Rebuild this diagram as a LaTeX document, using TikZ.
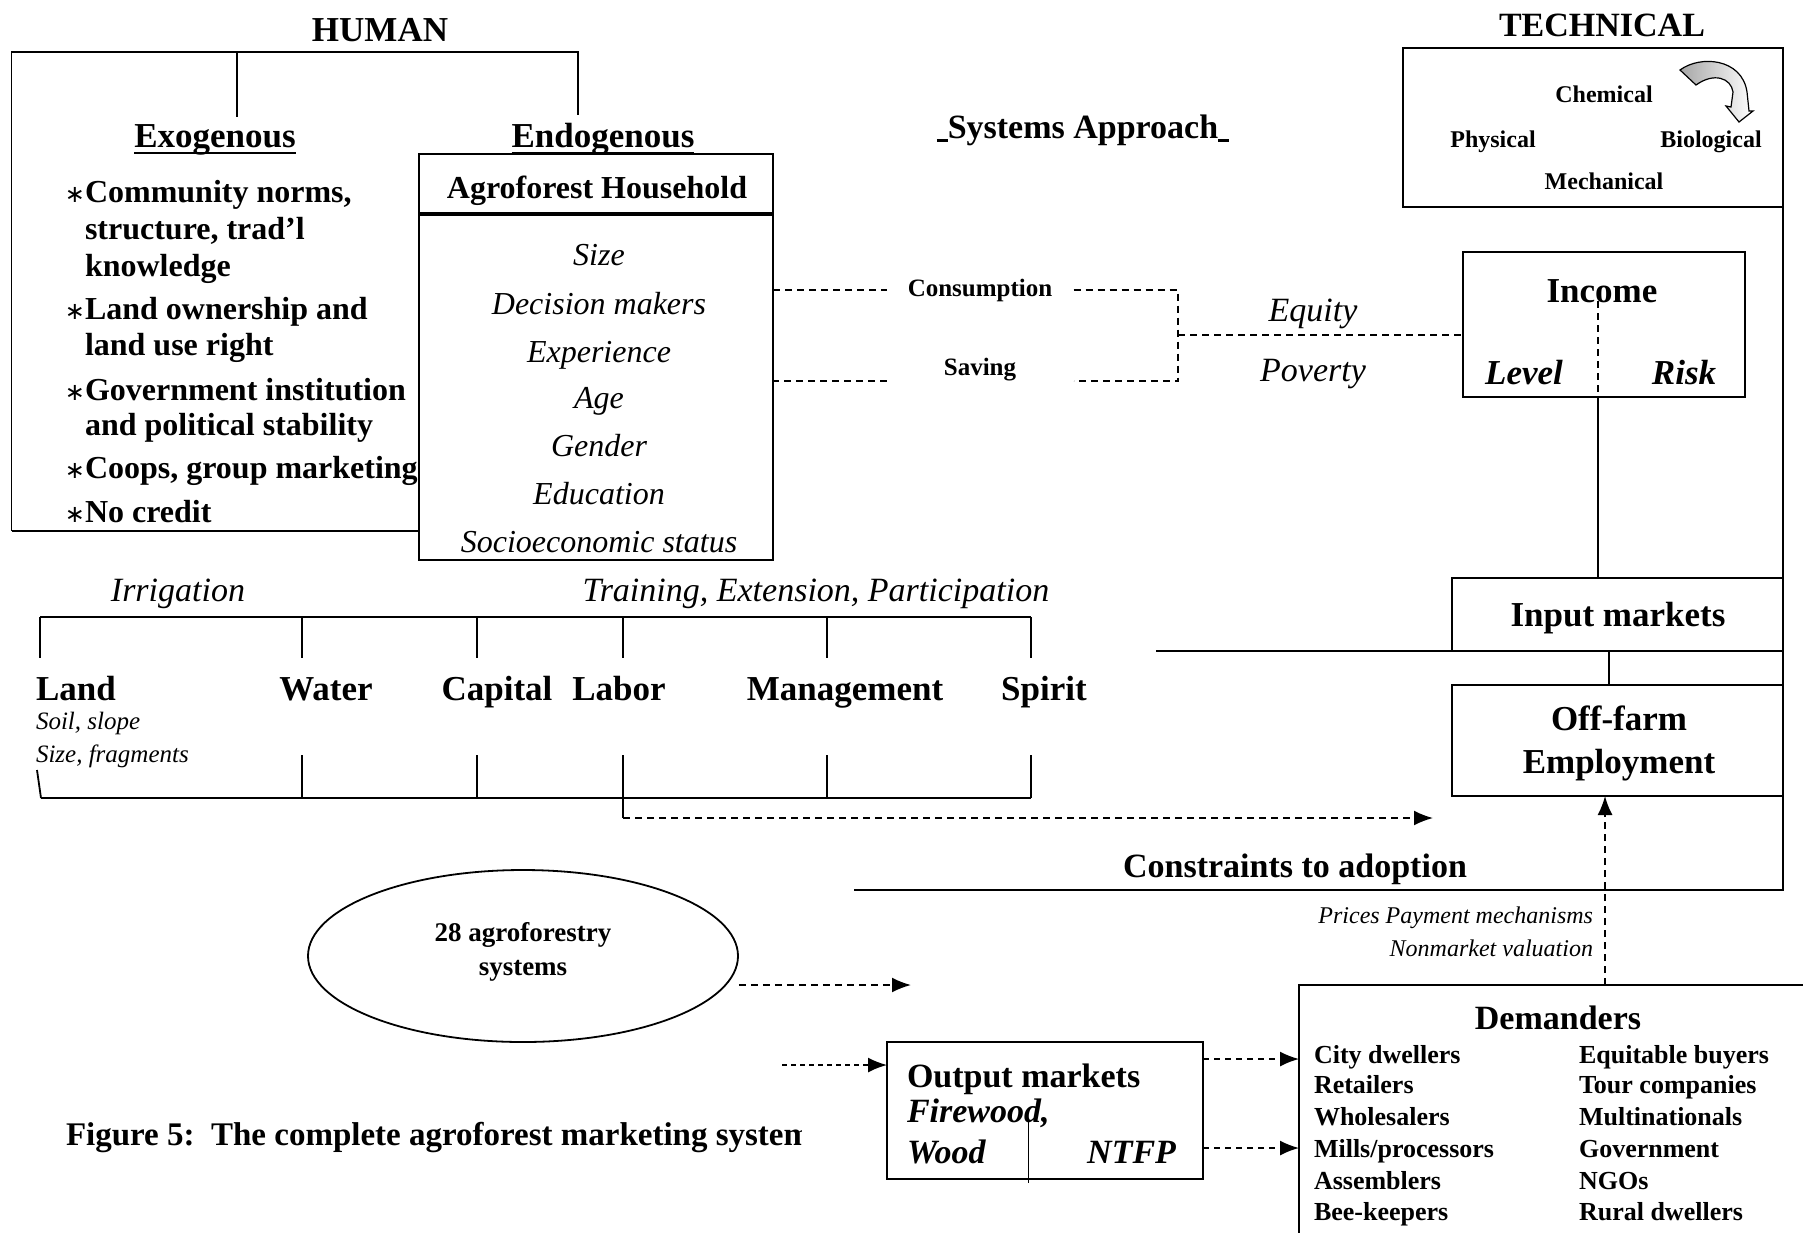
\documentclass[tikz,border=0pt]{standalone}
\usepackage{fontspec}
\setmainfont{Liberation Serif}
\newfontfamily\symfont{DejaVu Sans}
\usetikzlibrary{arrows.meta,shapes.geometric,calc}

\newcommand\fsz[1]{\fontsize{#1}{#1}\selectfont}
% heading text with a heavy underline
\newcommand\heavyul[1]{\setbox0\hbox{#1}\rlap{\rule[-7pt]{\wd0}{2.2pt}}\box0}
\newcommand\bul{{\symfont\fsz{24}∗}}

\begin{document}
\begin{tikzpicture}[x=1pt,y=-1pt,line width=1.8pt,
  box/.style={draw,line width=2.2pt,inner sep=0pt,outer sep=0pt},
  lbl/.style={inner sep=0pt,outer sep=0pt,anchor=base},
  hd/.style={lbl,font=\bfseries\fsz{35}},
  bl/.style={lbl,anchor=base west,font=\bfseries\fsz{32}},
  bstar/.style={lbl,anchor=base east},
  hhitem/.style={lbl,font=\itshape\fsz{32}},
  tk/.style={lbl,font=\bfseries\fsz{24}},
  res/.style={lbl,font=\bfseries\fsz{35}},
  dem/.style={lbl,anchor=base west,font=\bfseries\fsz{26}},
  dashline/.style={dash pattern=on 7pt off 5pt,line width=1.8pt},
  tipped/.style={-{Latex[length=19pt,width=15pt]}}]

\fill[white] (0,0) rectangle (1803,1232);
\useasboundingbox (0,0) rectangle (1803,1232);

% ---------- HUMAN side ----------
\node[hd] (human) at (380,41) {HUMAN};
\draw (11.5,531) -- (11.5,52) -- (578,52) -- (578,115);
\draw (237,52) -- (237,117);

\node[hd] (exo) at (215,147) {\heavyul{Exogenous}};
\node[hd] (endo) at (603,147) {\heavyul{Endogenous}};

\node[bstar] (s1) at (85,202) {\bul};
\node[bl] (b1) at (85,202) {Community norms,};
\node[bl] (b1b) at (85,239) {structure, trad’l};
\node[bl] (b1c) at (85,276) {knowledge};
\node[bstar] (s2) at (85,319) {\bul};
\node[bl] (b2) at (85,319) {Land ownership and};
\node[bl] (b2b) at (85,355) {land use right};
\node[bstar] (s3) at (85,400) {\bul};
\node[bl] (b3) at (85,400) {Government institution};
\node[bl] (b3b) at (85,435) {and political stability};
\node[bstar] (s4) at (85,478) {\bul};
\node[bl] (b4) at (85,478) {Coops, group marketing};
\node[bstar] (s5) at (85,522) {\bul};
\node[bl] (b5) at (85,522) {No credit};

% household box
\node[box,minimum width=354pt,minimum height=406pt] (hh) at (596,357) {};
\draw[line width=3.5pt] (hh.west |- 0,214) -- (hh.east |- 0,214);
\node[lbl,font=\bfseries\fsz{32}] (hhtitle) at (597,198) {Agroforest Household};
\node[hhitem] (h1) at (599,265) {Size};
\node[hhitem] (h2) at (599,314) {Decision makers};
\node[hhitem] (h3) at (599,362) {Experience};
\node[hhitem] (h4) at (599,408) {Age};
\node[hhitem] (h5) at (599,456) {Gender};
\node[hhitem] (h6) at (599,504) {Education};
\node[hhitem] (h7) at (599,552) {Socioeconomic status};
\draw (11.5,531) -- (hh.west |- 0,531);

% ---------- systems approach ----------
\node[lbl,font=\bfseries\fsz{34}] (sys) at (1083,138)
  {\rule[-4pt]{11pt}{2.6pt}Systems Approach\rule[-4pt]{11pt}{2.6pt}};

% consumption / saving flows
\node[lbl,font=\bfseries\fsz{25},minimum width=187pt] (cons) at (980,296) {Consumption};
\node[lbl,font=\bfseries\fsz{25},minimum width=187pt] (sav) at (980,375) {Saving};
\coordinate (jc) at (1178,290);
\coordinate (js) at (1178,381);
\coordinate (jm) at (1178,335);
\draw[dashline] (hh.east |- jc) -- (cons.west |- jc);
\draw[dashline] (cons.east |- jc) -- (jc) -- (js) -- (sav.east |- js);
\draw[dashline] (sav.west |- js) -- (hh.east |- js);
\node[lbl,font=\itshape\fsz{34}] (equity) at (1313,321) {Equity};
\node[lbl,font=\itshape\fsz{34}] (poverty) at (1313,381) {Poverty};

% ---------- TECHNICAL side ----------
\node[lbl,font=\bfseries\fsz{34}] (technical) at (1602,36) {TECHNICAL};
\node[box,minimum width=380pt,minimum height=159pt] (tech) at (1593,127.5) {};
\node[tk] (chem) at (1604,102) {Chemical};
\node[tk] (phys) at (1493,147) {Physical};
\node[tk] (bio) at (1711,147) {Biological};
\node[tk] (mech) at (1604,189) {Mechanical};
\draw[line width=1.2pt,left color=gray!70,right color=white]
  (1680,70) .. controls (1700,55) and (1742,58) .. (1747,92)
  -- (1749,111) -- (1753,111) -- (1739,122) -- (1726,106) -- (1731,107)
  -- (1733,92) .. controls (1731,78) and (1714,72) .. (1696,85) -- cycle;

% income
\node[box,minimum width=282pt,minimum height=145pt] (inc) at (1604,324.5) {};
\draw[dashline] (jm) -- (inc.west |- jm);
\node[res] (income) at (1602,302) {Income};
\node[lbl,font=\bfseries\itshape\fsz{35}] (level) at (1524,384) {Level};
\node[lbl,font=\bfseries\itshape\fsz{35}] (risk) at (1684,384) {Risk};
\coordinate (idv) at (1598,301);

% input markets and off-farm employment
\node[box,minimum width=331pt,minimum height=73pt] (inp) at (1617.5,614.5) {};
\node[res] (inptxt) at (1618,626) {Input markets};
\node[box,minimum width=331pt,minimum height=111pt] (off) at (1617.5,740.5) {};
\node[res] (off1) at (1619,730) {Off-farm};
\node[res] (off2) at (1619,773) {Employment};

\draw[dash pattern=on 7pt off 5pt,line width=1.3pt] (idv) -- (idv |- inc.south);
\draw (idv |- inc.south) -- (idv |- inp.north);
\draw ([xshift=-8.5pt]inp.south) -- ([xshift=-8.5pt]off.north);
\coordinate (ibl) at (1156,651);
\draw (ibl) -- (inp.south east);

% constraints frame
\coordinate (cbl) at (854,890);
\draw (tech.south east) -- (tech.east |- cbl) -- (cbl);
\node[lbl,font=\bfseries\fsz{34}] (constr) at (1295,877) {Constraints to adoption};
\node[lbl,anchor=base east,font=\itshape\fsz{24}] (prices) at (1593,923) {Prices Payment mechanisms};
\node[lbl,anchor=base east,font=\itshape\fsz{24}] (nonmkt) at (1593,956) {Nonmarket valuation};

% ---------- resources row ----------
\node[lbl,font=\itshape\fsz{34}] (irr) at (178,601) {Irrigation};
\node[lbl,font=\itshape\fsz{34}] (tep) at (816,601) {Training, Extension, Participation};
\draw[line width=2.4pt] (40,617) -- (1031,617);
\foreach \x in {40,302,477,623,827,1031} \draw (\x,617) -- (\x,658);
\node[res,anchor=base west] (land) at (36,700) {Land};
\node[res] (water) at (326,700) {Water};
\node[res] (capital) at (497,700) {Capital};
\node[res] (labor) at (619,700) {Labor};
\node[res] (mgmt) at (845,700) {Management};
\node[res] (spirit) at (1044,700) {Spirit};
\node[lbl,anchor=base west,font=\itshape\fsz{25}] (soil) at (36,729) {Soil, slope};
\node[lbl,anchor=base west,font=\itshape\fsz{25}] (frag) at (36,762) {Size, fragments};
\draw[line width=2.4pt] (41,798) -- (1031,798);
\foreach \x in {302,477,623,827,1031} \draw (\x,755) -- (\x,798);
\draw (37,770) -- (41,798);
\coordinate (labfoot) at (623,818);
\coordinate (offtip) at (1433,818);
\draw (623,798) -- (labfoot);
\draw[dashline,tipped] (labfoot) -- (offtip);

% ---------- systems and markets ----------
\node[draw,ellipse,line width=1.8pt,minimum width=430pt,minimum height=172pt,inner sep=0pt] (ell) at (523,956) {};
\node[lbl,font=\bfseries\fsz{27}] (ell1) at (523,941) {28 agroforestry};
\node[lbl,font=\bfseries\fsz{27}] (ell2) at (523,975) {systems};
\coordinate (ea) at (911,985);
\draw[dashline,tipped] (ell.east |- ea) -- (ea);

\node[box,minimum width=316pt,minimum height=137pt] (out) at (1045,1110.5) {};
\node[lbl,anchor=base west,font=\bfseries\fsz{34}] (out1) at (907,1087) {Output markets};
\node[lbl,anchor=base west,font=\bfseries\itshape\fsz{34}] (out2) at (907,1122) {Firewood,};
\node[lbl,anchor=base west,font=\bfseries\itshape\fsz{34}] (out3) at (907,1163) {Wood};
\node[lbl,anchor=base east,font=\bfseries\itshape\fsz{34}] (out4) at (1176,1163) {NTFP};
\draw[line width=0.8pt] (1028,1121) -- (1028,1183);
\coordinate (oin) at (782,1065);
\draw[dash pattern=on 5pt off 4pt,line width=1.6pt,tipped] (oin) -- (out.west |- oin);

\begin{scope}
\clip (0,1090) rectangle (801,1170);
\node[lbl,anchor=base west,font=\bfseries\fsz{33}] (caption) at (66,1145) {Figure 5:\ \ The complete agroforest marketing system};
\end{scope}

% demanders
\node[box,anchor=north west,minimum width=540pt,minimum height=280pt] (dem) at (1299,985) {};
\node[lbl,font=\bfseries\fsz{34}] (demt) at (1558,1029) {Demanders};
\node[dem] (d11) at (1314,1063) {City dwellers};
\node[dem] (d12) at (1314,1093) {Retailers};
\node[dem] (d13) at (1314,1125) {Wholesalers};
\node[dem] (d14) at (1314,1157) {Mills/processors};
\node[dem] (d15) at (1314,1189) {Assemblers};
\node[dem] (d16) at (1314,1220) {Bee-keepers};
\node[dem] (d21) at (1579,1063) {Equitable buyers};
\node[dem] (d22) at (1579,1093) {Tour companies};
\node[dem] (d23) at (1579,1125) {Multinationals};
\node[dem] (d24) at (1579,1157) {Government};
\node[dem] (d25) at (1579,1189) {NGOs};
\node[dem] (d26) at (1579,1220) {Rural dwellers};

\coordinate (d1) at (1250,1059);
\coordinate (d2) at (1250,1148);
\draw[dash pattern=on 6pt off 5pt,line width=1.6pt,tipped] (out.east |- d1) -- (dem.west |- d1);
\draw[dash pattern=on 6pt off 5pt,line width=1.6pt,tipped] (out.east |- d2) -- (dem.west |- d2);

\path ([xshift=-12.5pt]off.south) coordinate (offa);
\draw[dash pattern=on 7pt off 5pt,line width=1.6pt,tipped] (offa |- dem.north) -- (offa);

\end{tikzpicture}
\end{document}
